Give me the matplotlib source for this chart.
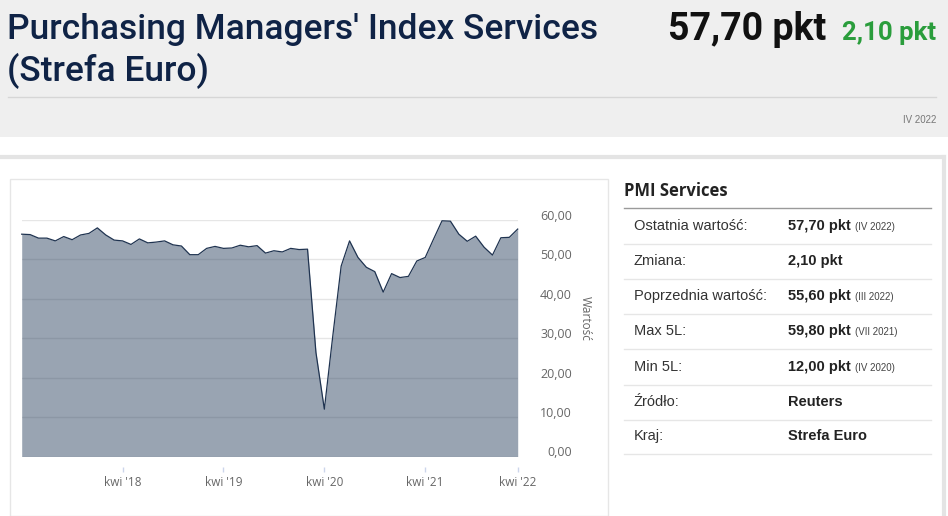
import matplotlib
matplotlib.use("Agg")
import matplotlib.pyplot as plt
import matplotlib.transforms as mtransforms
from matplotlib.patches import Rectangle
from matplotlib.lines import Line2D

W, H = 948, 516

# ── Data (monthly PMI Services, kwi 2017 → kwi 2022, one month absent in 2021) ──
pmi_values = [
    56.4, 56.3, 55.4, 55.4, 54.7, 55.8, 55.0, 56.2, 56.6,
    58.0, 56.2, 54.9, 54.7, 53.8, 55.2, 54.2, 54.4, 54.7, 53.7, 53.4, 51.2,
    51.2, 52.8, 53.3, 52.8, 52.9, 53.6, 53.2, 53.5, 51.6, 52.2, 51.9, 52.8,
    52.5, 52.6, 26.4, 12.0, 30.5, 48.3, 54.7, 50.5, 48.0, 46.9, 41.7, 46.4,
    45.4, 45.7, 49.6, 50.5, 55.2, 59.8, 59.7, 56.4, 54.6, 55.9, 53.1,
    51.1, 55.5, 55.6, 57.7,
]
tick_idx = [12, 24, 36, 48, 59]
tick_labels = ["kwi '18", "kwi '19", "kwi '20", "kwi '21", "kwi '22"]
y_ticks = [0, 10, 20, 30, 40, 50, 60]

table_labels = ["Ostatnia wartość:", "Zmiana:", "Poprzednia wartość:", "Max 5L:",
                "Min 5L:", "Źródło:", "Kraj:"]
table_values = ["57,70 pkt", "2,10 pkt", "55,60 pkt", "59,80 pkt",
                "12,00 pkt", "Reuters", "Strefa Euro"]
table_notes = ["(IV 2022)", "", "(III 2022)", "(VII 2021)", "(IV 2020)", "", ""]

PT = 72 / 100  # one pixel in points at dpi 100


def fx(px):
    return px / W


def fy(py):
    return 1 - py / H


fig = plt.figure(figsize=(W / 100, H / 100), dpi=100)
fig.patch.set_facecolor("white")

# ── Header band ───────────────────────────────────────────────────────────────
fig.patches.append(Rectangle((0, fy(137)), 1, 137 / H, transform=fig.transFigure,
                             facecolor="#efefef", edgecolor="none", zorder=-2))
fig.lines.append(Line2D([fx(8), fx(936)], [fy(97), fy(97)], transform=fig.transFigure,
                        color="#d6d6d6", lw=1, zorder=-1))
title_font = dict(family="Roboto", fontsize=25.5, color="#0f2346", fontweight="medium")
fig.text(fx(7), fy(30), "Purchasing Managers' Index Services", va="center", ha="left", **title_font)
fig.text(fx(7), fy(71), "(Strefa Euro)", va="center", ha="left", **title_font)
fig.text(fx(826), fy(30), "57,70 pkt", ha="right", va="center", family="Roboto",
         fontsize=27, fontweight="bold", color="#111111")
fig.text(fx(936), fy(33), "2,10 pkt", ha="right", va="center", family="Roboto",
         fontsize=18.5, fontweight="bold", color="#2a9d3c")
fig.text(fx(936), fy(120), "IV 2022", ha="right", va="center", family="Liberation Sans",
         fontsize=7, color="#777777")

# outer panel frame
fig.lines.append(Line2D([0, fx(944)], [fy(157), fy(157)], transform=fig.transFigure,
                        color="#e4e4e4", lw=3, zorder=-1))
fig.lines.append(Line2D([fx(944), fx(944)], [fy(157), 0], transform=fig.transFigure,
                        color="#e4e4e4", lw=3, zorder=-1))

# chart box
fig.patches.append(Rectangle((fx(10), 0), fx(598), fy(179), transform=fig.transFigure,
                             facecolor="white", edgecolor="#e6e6e6", lw=1, zorder=-1))

# ── Area chart ────────────────────────────────────────────────────────────────
ax = fig.add_axes([fx(21.7), fy(456.5), fx(517.7 - 21.7), (456.5 - 220) / H])
ax.set_facecolor("none")
xs = list(range(len(pmi_values)))
ax.set_axisbelow(True)
ax.grid(axis="y", color="#e6e6e6", lw=1)
ax.fill_between(xs, pmi_values, 0, color="#344a66", alpha=0.5, lw=0, zorder=2)
ax.plot(xs, pmi_values, color="#1f3350", lw=0.9, zorder=3, clip_on=False)
ax.set_xlim(0, len(pmi_values) - 1)
ax.set_ylim(0, 60)
for s in ax.spines.values():
    s.set_visible(False)

# x axis sits 10 px below the plot area
ax.spines["bottom"].set_position(("outward", 10 * PT))
ax.set_xticks(tick_idx)
ax.set_xticklabels(tick_labels, family="Open Sans", fontsize=8.5, color="#666666")
ax.tick_params(axis="x", length=5 * PT, width=1, color="#ccd6eb", pad=4 * PT, direction="out")

ax.yaxis.tick_right()
ax.set_yticks(y_ticks)
ax.set_yticklabels([f"{v:.2f}".replace(".", ",") for v in y_ticks],
                   family="Open Sans", fontsize=9, color="#666666", ha="right")
ax.tick_params(axis="y", length=0, pad=54 * PT)
shift = mtransforms.ScaledTranslation(0, 5 / 100, fig.dpi_scale_trans)
for lbl in ax.get_yticklabels():
    lbl.set_transform(lbl.get_transform() + shift)

fig.text(fx(585), fy(318), "Wartość", rotation=-90, ha="center", va="center",
         family="Open Sans", fontsize=8.5, color="#666666")

# ── Info table ────────────────────────────────────────────────────────────────
fig.text(fx(624), fy(191), "PMI Services", ha="left", va="center", family="Open Sans",
         fontsize=12, fontweight="bold", color="#222222")
fig.lines.append(Line2D([fx(624), fx(931)], [fy(208), fy(208)], transform=fig.transFigure,
                        color="#9a9a9a", lw=1))
row_y = [226, 261, 296, 331, 367, 402, 436]
for i, (lab, val, note) in enumerate(zip(table_labels, table_values, table_notes)):
    y = row_y[i]
    fig.text(fx(634), fy(y), lab, ha="left", va="center", family="Liberation Sans",
             fontsize=10.5, color="#333333")
    t = fig.text(fx(788), fy(y), val, ha="left", va="center", family="Liberation Sans",
                 fontsize=10.5, fontweight="bold", color="#222222")
    if note:
        fig.canvas.draw()
        bb = t.get_window_extent()
        fig.text((bb.x1 + 4) / W, fy(y + 1), note, ha="left", va="center",
                 family="Liberation Sans", fontsize=7, color="#444444")
    fig.lines.append(Line2D([fx(624), fx(931)], [fy(y + 17.5), fy(y + 17.5)],
                            transform=fig.transFigure, color="#e6e6e6", lw=1))

fig.savefig("out.png", dpi=100)
